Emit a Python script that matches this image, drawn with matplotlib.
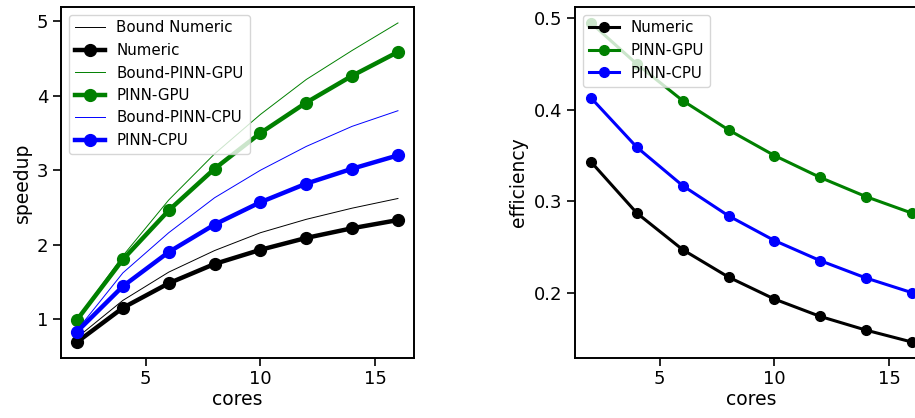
import matplotlib
matplotlib.use("Agg")
import matplotlib.pyplot as plt
import numpy as np

cores = [2, 4, 6, 8, 10, 12, 14, 16]
bound_numeric = [0.75, 1.25, 1.63, 1.92, 2.16, 2.34, 2.49, 2.62]
numeric = [0.69, 1.15, 1.48, 1.74, 1.93, 2.09, 2.22, 2.33]
bound_gpu = [1.00, 1.85, 2.60, 3.22, 3.75, 4.22, 4.61, 4.98]
pinn_gpu = [0.99, 1.80, 2.46, 3.02, 3.50, 3.91, 4.27, 4.59]
bound_cpu = [0.85, 1.62, 2.16, 2.63, 3.00, 3.32, 3.59, 3.80]
pinn_cpu = [0.83, 1.44, 1.90, 2.27, 2.57, 2.82, 3.02, 3.20]

eff_numeric = [0.343, 0.287, 0.247, 0.217, 0.193, 0.174, 0.159, 0.146]
eff_gpu = [0.495, 0.450, 0.410, 0.378, 0.350, 0.326, 0.305, 0.287]
eff_cpu = [0.413, 0.359, 0.317, 0.284, 0.257, 0.235, 0.216, 0.200]

plt.rcParams['font.family'] = ['DejaVu Sans']
fig = plt.figure(figsize=(9.15, 4.18), dpi=100)
W, H = 915, 418
ax1 = fig.add_axes([61 / W, (H - 358) / H, 353 / W, 351 / H])
ax2 = fig.add_axes([575 / W, (H - 358) / H, 353 / W, 351 / H])

thick = 3.2
ms = 8.5
thin = 0.7
ax1.plot(cores, bound_numeric, color='k', lw=thin, label='Bound Numeric')
ax1.plot(cores, numeric, color='k', lw=thick, marker='o', ms=ms, label='Numeric')
ax1.plot(cores, bound_gpu, color='g', lw=thin, label='Bound-PINN-GPU')
ax1.plot(cores, pinn_gpu, color='g', lw=thick, marker='o', ms=ms, label='PINN-GPU')
ax1.plot(cores, bound_cpu, color='b', lw=thin, label='Bound-PINN-CPU')
ax1.plot(cores, pinn_cpu, color='b', lw=thick, marker='o', ms=ms, label='PINN-CPU')
ax1.set_xlabel('cores', fontsize=13.5, labelpad=1)
ax1.set_ylabel('speedup', fontsize=13.5)
ax1.set_yticks([1, 2, 3, 4, 5])
ax1.set_xticks([5, 10, 15])
ax1.legend(loc='upper left', fontsize=10.8, framealpha=0.8)

lw2 = 2.2
ms2 = 7
ax2.plot(cores, eff_numeric, color='k', lw=lw2, marker='o', ms=ms2, label='Numeric')
ax2.plot(cores, eff_gpu, color='g', lw=lw2, marker='o', ms=ms2, label='PINN-GPU')
ax2.plot(cores, eff_cpu, color='b', lw=lw2, marker='o', ms=ms2, label='PINN-CPU')
ax2.set_xlabel('cores', fontsize=13.5, labelpad=1)
ax2.set_ylabel('efficiency', fontsize=13.5)
ax2.set_yticks([0.2, 0.3, 0.4, 0.5])
ax2.set_xticks([5, 10, 15])
ax2.legend(loc='upper left', fontsize=10.8, framealpha=0.8)

for ax in (ax1, ax2):
    ax.tick_params(labelsize=13, length=5.5, width=1.2)
    for s in ax.spines.values():
        s.set_linewidth(1.4)

fig.savefig('out.png', dpi=100)
